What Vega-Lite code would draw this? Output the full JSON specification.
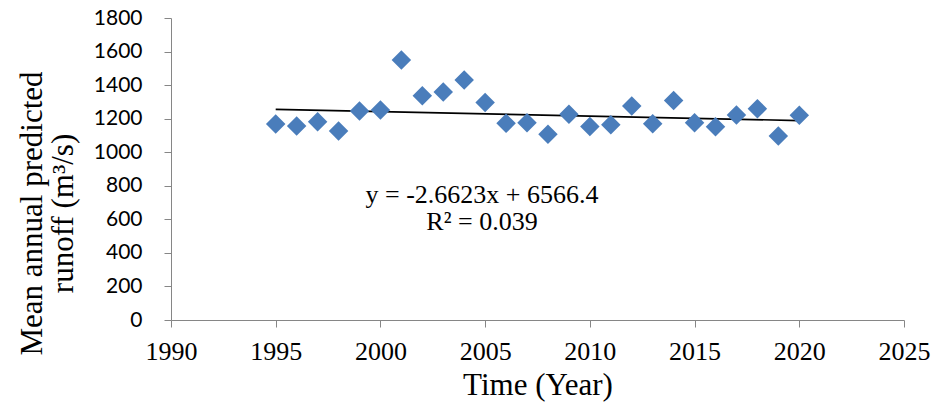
{
  "$schema": "https://vega.github.io/schema/vega-lite/v6.json",
  "width": 733,
  "height": 302,
  "autosize": {"type": "none"},
  "padding": {"left": 171, "top": 18, "right": 31, "bottom": 91},
  "background": "white",
  "config": {"view": {"stroke": null}},
  "datasets": {
    "runoff": [
      {"year": 1995, "runoff": 1168},
      {"year": 1996, "runoff": 1156},
      {"year": 1997, "runoff": 1182},
      {"year": 1998, "runoff": 1126},
      {"year": 1999, "runoff": 1245},
      {"year": 2000, "runoff": 1251},
      {"year": 2001, "runoff": 1549},
      {"year": 2002, "runoff": 1337},
      {"year": 2003, "runoff": 1359},
      {"year": 2004, "runoff": 1430},
      {"year": 2005, "runoff": 1297},
      {"year": 2006, "runoff": 1172},
      {"year": 2007, "runoff": 1176},
      {"year": 2008, "runoff": 1107},
      {"year": 2009, "runoff": 1226},
      {"year": 2010, "runoff": 1154},
      {"year": 2011, "runoff": 1164},
      {"year": 2012, "runoff": 1275},
      {"year": 2013, "runoff": 1170},
      {"year": 2014, "runoff": 1309},
      {"year": 2015, "runoff": 1176},
      {"year": 2016, "runoff": 1152},
      {"year": 2017, "runoff": 1222},
      {"year": 2018, "runoff": 1259},
      {"year": 2019, "runoff": 1097},
      {"year": 2020, "runoff": 1220}
    ],
    "trend": [
      {"year": 1995, "runoff": 1255.1},
      {"year": 2020, "runoff": 1188.6}
    ],
    "labels": [
      {"year": 2004.85, "runoff": 697, "label": "y = -2.6623x + 6566.4"},
      {"year": 2004.85, "runoff": 536, "label": "R² = 0.039"}
    ]
  },
  "encoding": {
    "x": {
      "field": "year",
      "type": "quantitative",
      "scale": {"domain": [1990, 2025], "nice": false, "zero": false},
      "axis": {
        "title": "Time (Year)",
        "values": [1990, 1995, 2000, 2005, 2010, 2015, 2020, 2025],
        "format": "d",
        "grid": false,
        "domainColor": "#868686",
        "tickColor": "#868686",
        "tickSize": 7,
        "labelFont": "Liberation Serif",
        "labelFontSize": 26,
        "labelColor": "black",
        "labelPadding": 11,
        "labelFlush": false,
        "titleFont": "Liberation Serif",
        "titleFontSize": 31,
        "titleFontWeight": "normal",
        "titleColor": "black",
        "titlePadding": 6
      }
    },
    "y": {
      "field": "runoff",
      "type": "quantitative",
      "scale": {"domain": [0, 1800], "nice": false},
      "axis": {
        "title": ["Mean annual predicted", "runoff (m³/s)"],
        "values": [0, 200, 400, 600, 800, 1000, 1200, 1400, 1600, 1800],
        "format": "d",
        "grid": false,
        "domainColor": "#868686",
        "tickColor": "#868686",
        "tickSize": 7,
        "labelFont": "Lato",
        "labelFontSize": 21,
        "labelColor": "black",
        "labelPadding": 22,
        "labelFlush": false,
        "titleFont": "Liberation Serif",
        "titleFontSize": 31,
        "titleFontWeight": "normal",
        "titleColor": "black",
        "titleLineHeight": 31,
        "titleX": -123,
        "titleY": 195
      }
    }
  },
  "layer": [
    {
      "data": {"name": "trend"},
      "mark": {"type": "line", "color": "black", "strokeWidth": 1.6},
      "encoding": {}
    },
    {
      "data": {"name": "runoff"},
      "mark": {"type": "point", "shape": "diamond", "filled": true, "size": 380, "color": "#4a7dbb", "opacity": 1}
    },
    {
      "data": {"name": "labels"},
      "mark": {"type": "text", "font": "Liberation Serif", "fontSize": 26, "align": "center", "baseline": "alphabetic", "color": "black"},
      "encoding": {"text": {"field": "label"}}
    }
  ]
}
